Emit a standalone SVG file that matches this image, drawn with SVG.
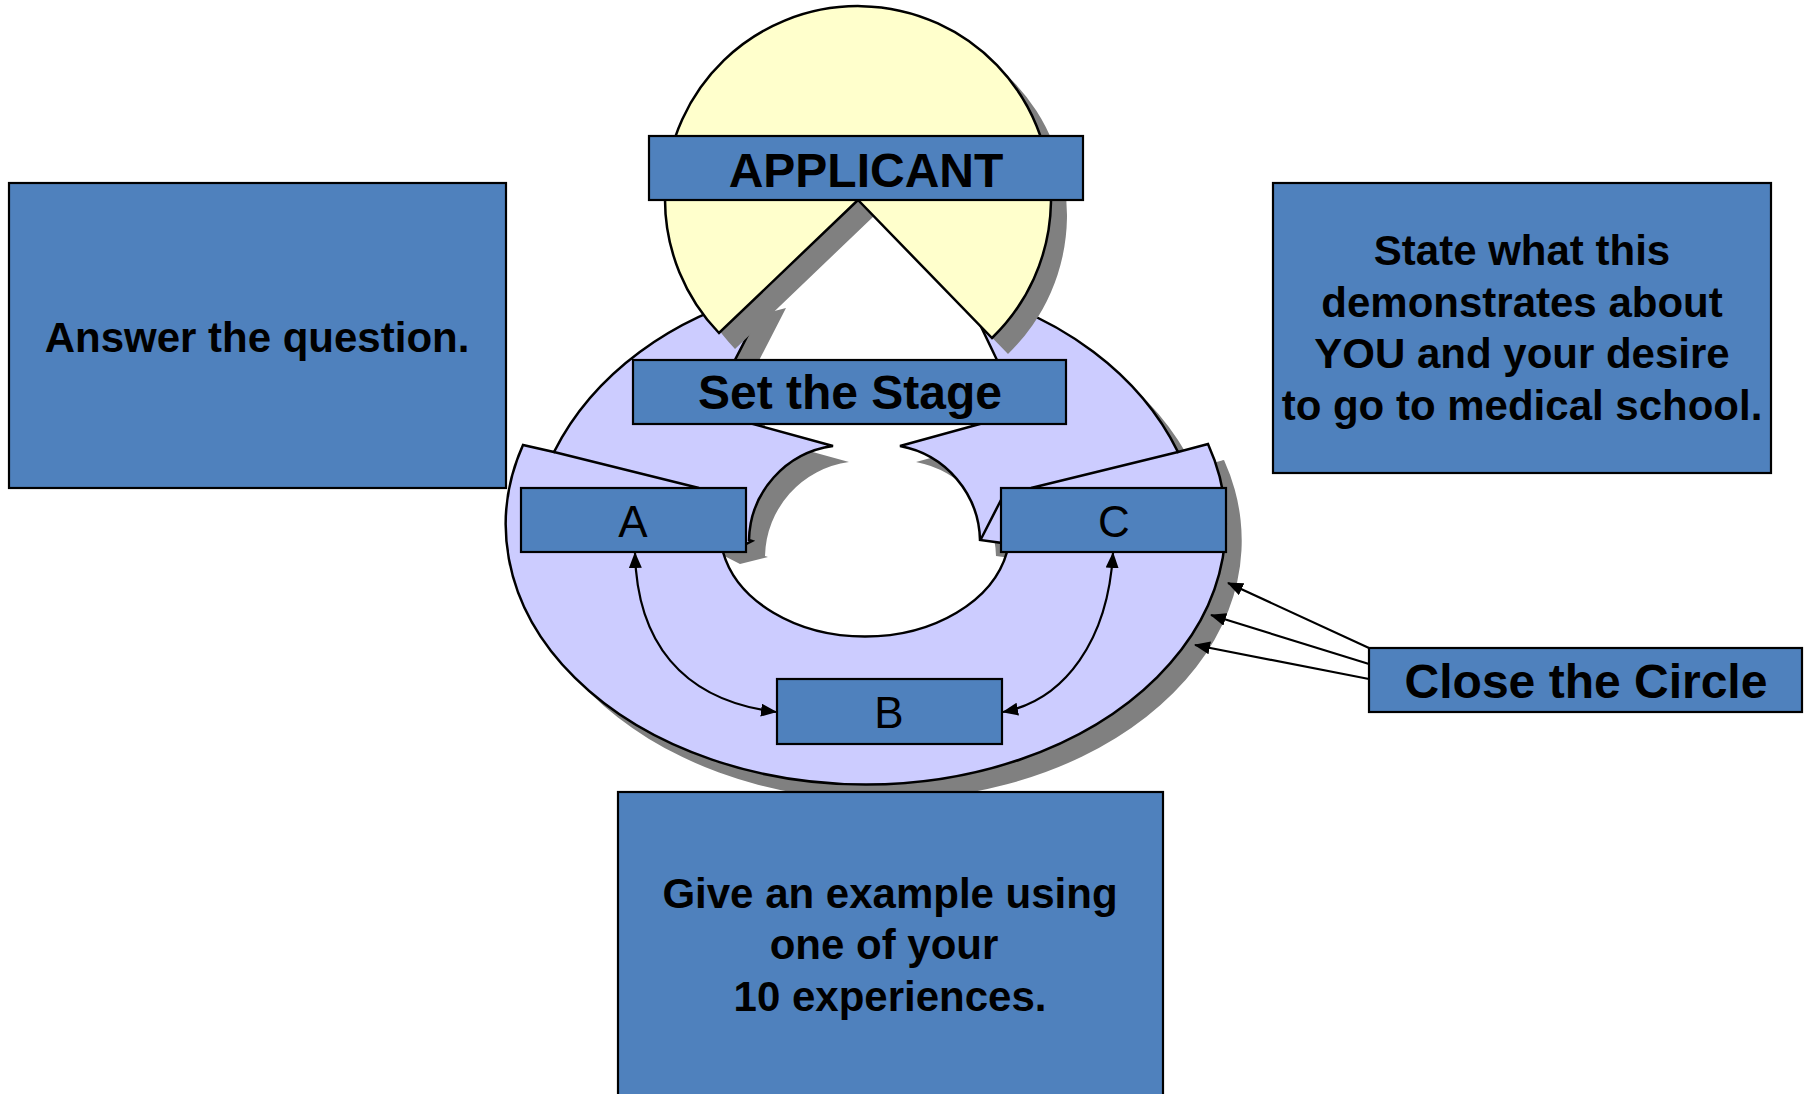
<svg xmlns="http://www.w3.org/2000/svg" width="1808" height="1094" viewBox="0 0 1808 1094">
<defs>
<style>
.box{fill:#4F81BD;stroke:#000;stroke-width:2.2}
.lbl{font-family:"Liberation Sans",Arial,sans-serif;font-weight:bold;fill:#000;text-anchor:middle}
.big{font-size:48px}
.mid{font-size:42px}
.let{font-family:"Liberation Sans",Arial,sans-serif;font-size:44px;fill:#000;text-anchor:middle}
.shadow{fill:#808080}
.ring{fill:#CCCCFF;stroke:#000;stroke-width:2.5;stroke-linejoin:miter}
.head{fill:#FFFFCC;stroke:#000;stroke-width:2.5}
.conn{fill:none;stroke:#000;stroke-width:2.2}
</style>
<marker id="arr" markerUnits="userSpaceOnUse" markerWidth="16" markerHeight="13" refX="15" refY="6.5" orient="auto-start-reverse"><path d="M0,0 L16,6.5 L0,13 z" fill="#000"/></marker>
</defs>
<rect x="0" y="0" width="1808" height="1094" fill="#FFFFFF"/>

<g id="ring">
<path class="shadow" d="M 539 461 A 360 260 0 1 0 1224 460 L 1007 552 A 145 106 0 0 1 723 552 Z"/>
<path class="shadow" transform="translate(16,16)" d="M 770 292 L 735 360 L 753 424 L 833 446 A 97 97 0 0 0 749 540 L 752 541 L 724 548 L 523 445 L 554 452 A 338 276 0 0 1 770 292 Z"/>
<path class="shadow" transform="translate(16,16)" d="M 964 291 A 338 276 0 0 1 1178 452 L 1208 444 L 1120 540 L 1002 543 L 980 540 A 98 98 0 0 0 900 446 L 980 424 L 997 360 Z"/>
<path class="ring" d="M 770 292 L 735 360 L 753 424 L 833 446 A 97 97 0 0 0 749 540 L 752 541 L 744 545 L 723 552 A 145 106 0 0 0 1007 552 L 1002 543 L 980 540 A 98 98 0 0 0 900 446 L 980 424 L 997 360 L 964 291 A 338 276 0 0 1 1178 452 L 1208 444 A 360 260 0 1 1 523 445 L 554 452 A 338 276 0 0 1 770 292 Z"/>
<path fill="none" stroke="#000" stroke-width="2.5" d="M 554 452 L 699 488 M 1178 452 L 1031 488 M 981 539 L 1002 498"/>
</g>

<g id="head">
<path class="shadow" d="M 874 216 L 735 349 A 193 193 0 1 1 1008 354 Z"/>
<path class="head" d="M 858 200 L 719 333 A 193 193 0 1 1 992 338 Z"/>
</g>

<g id="connectors">
<path class="conn" d="M 635 553 C 637 640, 680 700, 776 712" marker-start="url(#arr)" marker-end="url(#arr)"/>
<path class="conn" d="M 1113 553 C 1108 640, 1065 700, 1003 712" marker-start="url(#arr)" marker-end="url(#arr)"/>
<line class="conn" x1="1369" y1="648" x2="1228" y2="583" marker-end="url(#arr)"/>
<line class="conn" x1="1369" y1="664" x2="1211" y2="615" marker-end="url(#arr)"/>
<line class="conn" x1="1369" y1="679" x2="1195" y2="645" marker-end="url(#arr)"/>
</g>

<g id="node-applicant">
<rect class="box" x="649" y="136" width="434" height="64"/>
<text class="lbl big" x="866" y="187">APPLICANT</text>
</g>

<g id="node-set-stage">
<rect class="box" x="633" y="360" width="433" height="64"/>
<text class="lbl big" x="850" y="409">Set the Stage</text>
</g>

<g id="node-a">
<rect class="box" x="521" y="488" width="225" height="64"/>
<text class="let" x="633" y="537">A</text>
</g>

<g id="node-c">
<rect class="box" x="1001" y="488" width="225" height="64"/>
<text class="let" x="1114" y="537">C</text>
</g>

<g id="node-b">
<rect class="box" x="777" y="679" width="225" height="65"/>
<text class="let" x="889" y="728">B</text>
</g>

<g id="node-close">
<rect class="box" x="1369" y="648" width="433" height="64"/>
<text class="lbl big" x="1586" y="698">Close the Circle</text>
</g>

<g id="node-answer">
<rect class="box" x="9" y="183" width="497" height="305"/>
<text class="lbl mid" x="257" y="352">Answer the question.</text>
</g>

<g id="node-state">
<rect class="box" x="1273" y="183" width="498" height="290"/>
<text class="lbl mid" x="1522" y="265">State what this</text>
<text class="lbl mid" x="1522" y="317">demonstrates about</text>
<text class="lbl mid" x="1522" y="368">YOU and your desire</text>
<text class="lbl mid" x="1522" y="420">to go to medical school.</text>
</g>

<g id="node-give">
<rect class="box" x="618" y="792" width="545" height="330"/>
<text class="lbl mid" x="890" y="908">Give an example using</text>
<text class="lbl mid" x="884" y="959">one of your</text>
<text class="lbl mid" x="890" y="1011">10 experiences.</text>
</g>
</svg>
